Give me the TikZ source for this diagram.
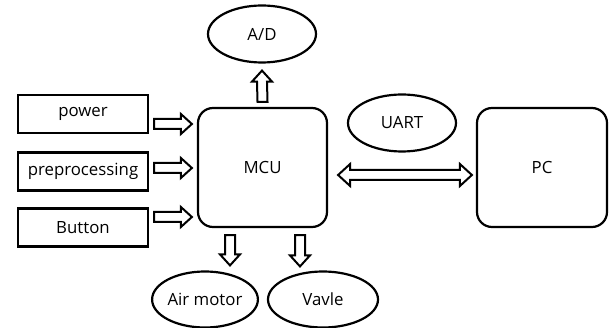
\documentclass[tikz,border=0pt]{standalone}
\usepackage{fontspec}
\setmainfont{Open Sans}
\usetikzlibrary{shapes.geometric,calc}
\tikzset{
  lbl/.style={font=\fontsize{16.8}{19}\selectfont},
  inbox/.style={draw, line width=2.2pt, minimum width=130pt, minimum height=38pt, inner sep=0pt, lbl},
  bigbox/.style={draw, line width=2.2pt, rounded corners=15pt, minimum width=129pt, minimum height=119pt, inner sep=0pt, lbl},
  oval/.style={draw, ellipse, line width=2.2pt, minimum width=108pt, minimum height=57pt, inner sep=0pt, lbl},
  blk/.style={draw, fill=white, line width=2pt, line join=miter}
}
\newcommand\arrR[2]{\draw[blk] ($(#1)+(0,-5)$) -- ($(#2)+(-11,-5)$) -- ($(#2)+(-11,-10)$) -- (#2) -- ($(#2)+(-11,10)$) -- ($(#2)+(-11,5)$) -- ($(#1)+(0,5)$) -- cycle;}
\newcommand\arrD[2]{\draw[blk] ($(#1)+(-5,0)$) -- ($(#2)+(-5,-11)$) -- ($(#2)+(-10,-11)$) -- (#2) -- ($(#2)+(10,-11)$) -- ($(#2)+(5,-11)$) -- ($(#1)+(5,0)$) -- cycle;}
\newcommand\arrU[2]{\draw[blk] ($(#1)+(-5,0)$) -- ($(#2)+(-5,11)$) -- ($(#2)+(-10,11)$) -- (#2) -- ($(#2)+(10,11)$) -- ($(#2)+(5,11)$) -- ($(#1)+(5,0)$) -- cycle;}
\newcommand\arrLR[2]{\draw[blk] (#1) -- ($(#1)+(12,-11)$) -- ($(#1)+(12,-5)$) -- ($(#2)+(-12,-5)$) -- ($(#2)+(-12,-11)$) -- (#2) -- ($(#2)+(-12,11)$) -- ($(#2)+(-12,5)$) -- ($(#1)+(12,5)$) -- ($(#1)+(12,11)$) -- cycle;}
\begin{document}
\begin{tikzpicture}[x=1pt,y=-1pt]
\useasboundingbox (0,0) rectangle (612,328);
% left input boxes
\node[inbox] (power) at (83,114) {power};
\node[inbox] (prep) at (83,171.5) {preprocessing};
\node[inbox] (button) at (83,227.5) {Button};
% main blocks
\node[bigbox] (mcu) at (262.5,167.5) {MCU};
\node[bigbox, minimum width=130pt] (pc) at (542,167.5) {PC};
% ellipses
\node[oval] (ad) at (262,34) {A/D};
\node[oval] (uart) at (402,123) {UART};
\node[oval, minimum width=105pt, minimum height=56pt] (air) at (205,299.5) {Air motor};
\node[oval, minimum width=110pt, minimum height=56pt] (valve) at (323,299.5) {Vavle};
% arrow ends
\coordinate (p1) at ($(power.east)+(5,10)$);
\coordinate (p2) at ($(mcu.west |- p1)+(-5,0)$);
\coordinate (q1) at ($(prep.east)+(5,-3.5)$);
\coordinate (q2) at ($(mcu.west |- q1)+(-5,0)$);
\coordinate (b1) at ($(button.east)+(5,-10.5)$);
\coordinate (b2) at ($(mcu.west |- b1)+(-5,0)$);
\coordinate (a1) at ($(mcu.north)+(0,-5)$);
\coordinate (a2) at ($(ad.south)+(0,7)$);
\coordinate (m1) at ($(mcu.south)+(-32.5,7)$);
\coordinate (m2) at ($(air.north -| m1)+(0,-5)$);
\coordinate (v1) at ($(mcu.south)+(37.5,7)$);
\coordinate (v2) at ($(valve.north -| v1)+(0,-4)$);
\coordinate (u1) at ($(mcu.east)+(10,7.5)$);
\coordinate (u2) at ($(pc.west)+(-4,7.5)$);
% block arrows
\arrR{p1}{p2}
\arrR{q1}{q2}
\arrR{b1}{b2}
\arrU{a1}{a2}
\arrD{m1}{m2}
\arrD{v1}{v2}
\arrLR{u1}{u2}
\end{tikzpicture}
\end{document}
